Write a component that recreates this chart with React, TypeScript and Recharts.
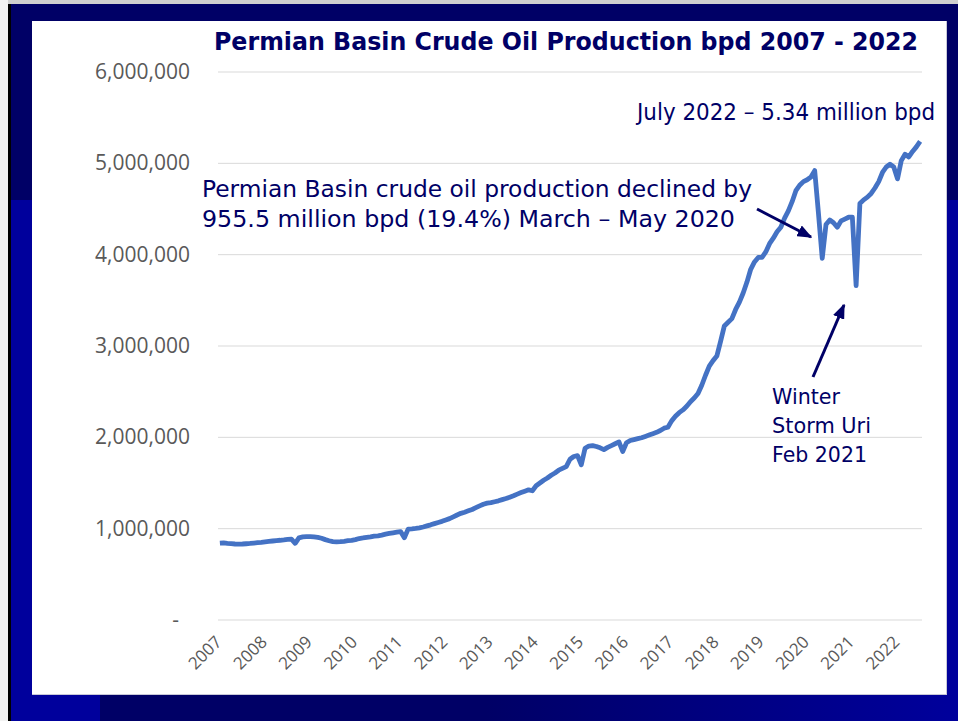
import { LineChart, Line, XAxis, YAxis, CartesianGrid } from 'recharts'

// monthly crude oil production, thousand bpd
const y2007 = [842, 845, 840, 836, 832, 830, 832, 835, 838, 842, 846, 850]
const y2008 = [855, 860, 865, 870, 873, 877, 882, 885, 840, 900, 910, 912]
const y2009 = [912, 910, 905, 895, 880, 868, 858, 855, 858, 862, 868, 872]
const y2010 = [880, 892, 898, 905, 910, 918, 922, 930, 940, 948, 955, 962]
const y2011 = [968, 900, 995, 998, 1002, 1008, 1018, 1030, 1042, 1055, 1068, 1080]
const y2012 = [1095, 1110, 1130, 1150, 1168, 1180, 1195, 1210, 1230, 1250, 1268, 1280]
const y2013 = [1285, 1295, 1305, 1318, 1330, 1345, 1360, 1378, 1395, 1410, 1425, 1415]
const y2014 = [1470, 1500, 1530, 1555, 1585, 1610, 1640, 1660, 1680, 1760, 1790, 1800]
const y2015 = [1700, 1880, 1905, 1910, 1900, 1885, 1865, 1890, 1910, 1930, 1950, 1845]
const y2016 = [1940, 1965, 1975, 1985, 1995, 2010, 2025, 2040, 2055, 2075, 2100, 2110]
const y2017 = [2180, 2230, 2270, 2300, 2340, 2390, 2430, 2480, 2570, 2680, 2780, 2840]
const y2018 = [2890, 3050, 3220, 3260, 3300, 3400, 3480, 3580, 3700, 3840, 3920, 3970]
const y2019 = [3970, 4030, 4120, 4180, 4250, 4300, 4400, 4480, 4580, 4700, 4760, 4800]
const y2020 = [4820, 4850, 4920, 4450, 3960, 4330, 4380, 4350, 4300, 4370, 4390, 4410]
const y2021 = [4410, 3660, 4560, 4600, 4630, 4670, 4730, 4800, 4900, 4960, 4990, 4960]
const y2022 = [4830, 5030, 5100, 5070, 5130, 5180, 5240]

const years = [2007, 2008, 2009, 2010, 2011, 2012, 2013, 2014, 2015, 2016, 2017, 2018, 2019, 2020, 2021, 2022]
const yearValues = [y2007, y2008, y2009, y2010, y2011, y2012, y2013, y2014, y2015, y2016, y2017, y2018, y2019, y2020, y2021, y2022]
const yTicks = [0, 1000000, 2000000, 3000000, 4000000, 5000000, 6000000]

const data: { idx: number; bpd: number }[] = []
yearValues.forEach((months) => {
  months.forEach((v) => {
    data.push({ idx: data.length, bpd: v * 1000 })
  })
})
const xTicks = years.map((_, i) => i * 12)

const NAVY = '#000066'
const AXIS_GREY = '#595959'

function YTick(props: any) {
  const { x, y, payload } = props
  const v = payload.value
  const label = v === 0 ? '-' : v.toLocaleString('en-US')
  return (
    <text x={v === 0 ? x - 11 : x} y={y} dy={7} textAnchor="end" fill={AXIS_GREY}
      style={{ fontFamily: 'Open Sans', fontSize: 21 }}>
      {label}
    </text>
  )
}

function XTick(props: any) {
  const { x, y, payload } = props
  const tx = x + 3
  const ty = y + 23
  return (
    <text x={tx} y={ty} textAnchor="end" fill={AXIS_GREY} transform={`rotate(-45, ${tx}, ${ty})`}
      style={{ fontFamily: 'Open Sans', fontSize: 17 }}>
      {years[payload.value / 12]}
    </text>
  )
}

const txt = { fontFamily: 'DejaVu Sans', fill: NAVY }

export default function App() {
  return (
    <div style={{ position: 'absolute', left: 0, top: 0, width: 958, height: 721, overflow: 'hidden', background: '#00009c' }}>
      <div style={{ position: 'absolute', left: 0, top: 0, width: 958, height: 200, background: NAVY }} />
      <div style={{ position: 'absolute', left: 100, top: 695, width: 858, height: 26, background: 'linear-gradient(to right, #000066 0%, #000066 45%, #00009c 100%)' }} />
      <div style={{ position: 'absolute', left: 0, top: 0, width: 958, height: 4, background: '#cfcfcf' }} />
      <div style={{ position: 'absolute', left: 0, top: 0, width: 8, height: 721, background: '#f2f2f2' }} />
      <div style={{ position: 'absolute', left: 8, top: 4, width: 3, height: 717, background: '#000' }} />
      <div style={{ position: 'absolute', left: 32, top: 21, width: 914, height: 673, background: '#fff', borderBottom: '1px solid #c8c8d8', borderRight: '1px solid #c8c8d8' }} />

      <div style={{ position: 'absolute', left: 0, top: 0 }}>
        <LineChart width={958} height={721} data={data} margin={{ top: 72, right: 36, bottom: 0, left: 0 }}>
          <CartesianGrid vertical={false} stroke="#d9d9d9" />
          <XAxis dataKey="idx" type="number" domain={[-0.5, 186.5]} ticks={xTicks} interval={0}
            height={101} axisLine={false} tickLine={false} tickSize={0} tickMargin={0} tick={<XTick />} />
          <YAxis domain={[0, 6000000]} ticks={yTicks} interval={0} width={218}
            axisLine={false} tickLine={false} tickSize={0} tickMargin={28} tick={<YTick />} />
          <Line type="linear" dataKey="bpd" stroke="#4472C4" strokeWidth={4.8} dot={false}
            strokeLinejoin="round" isAnimationActive={false} />
        </LineChart>
      </div>

      <svg width={958} height={721} style={{ position: 'absolute', left: 0, top: 0, pointerEvents: 'none' }}>
        <defs>
          <marker id="head" markerWidth="5" markerHeight="4" refX="4.5" refY="2" orient="auto" markerUnits="strokeWidth">
            <path d="M0,0 L5,2 L0,4 Z" fill={NAVY} />
          </marker>
        </defs>
        <text x={214} y={50} textLength={704} lengthAdjust="spacingAndGlyphs" style={{ ...txt, fontSize: 25, fontWeight: 'bold' }}>
          Permian Basin Crude Oil Production bpd 2007 - 2022
        </text>
        <text x={637} y={120} textLength={298} lengthAdjust="spacingAndGlyphs" style={{ ...txt, fontSize: 23 }}>
          July 2022 – 5.34 million bpd
        </text>
        <text x={202} y={197} textLength={550} lengthAdjust="spacingAndGlyphs" style={{ ...txt, fontSize: 23 }}>
          Permian Basin crude oil production declined by
        </text>
        <text x={202} y={227} textLength={533} lengthAdjust="spacingAndGlyphs" style={{ ...txt, fontSize: 23 }}>
          955.5 million bpd (19.4%) March – May 2020
        </text>
        <text x={772} y={404} textLength={68} lengthAdjust="spacingAndGlyphs" style={{ ...txt, fontSize: 22 }}>Winter</text>
        <text x={772} y={433} textLength={99} lengthAdjust="spacingAndGlyphs" style={{ ...txt, fontSize: 22 }}>Storm Uri</text>
        <text x={772} y={462} textLength={95} lengthAdjust="spacingAndGlyphs" style={{ ...txt, fontSize: 22 }}>Feb 2021</text>
        <line x1={757} y1={209} x2={811} y2={237} stroke={NAVY} strokeWidth={3} markerEnd="url(#head)" />
        <line x1={813} y1={377} x2={844} y2={305} stroke={NAVY} strokeWidth={3} markerEnd="url(#head)" />
      </svg>
    </div>
  )
}
